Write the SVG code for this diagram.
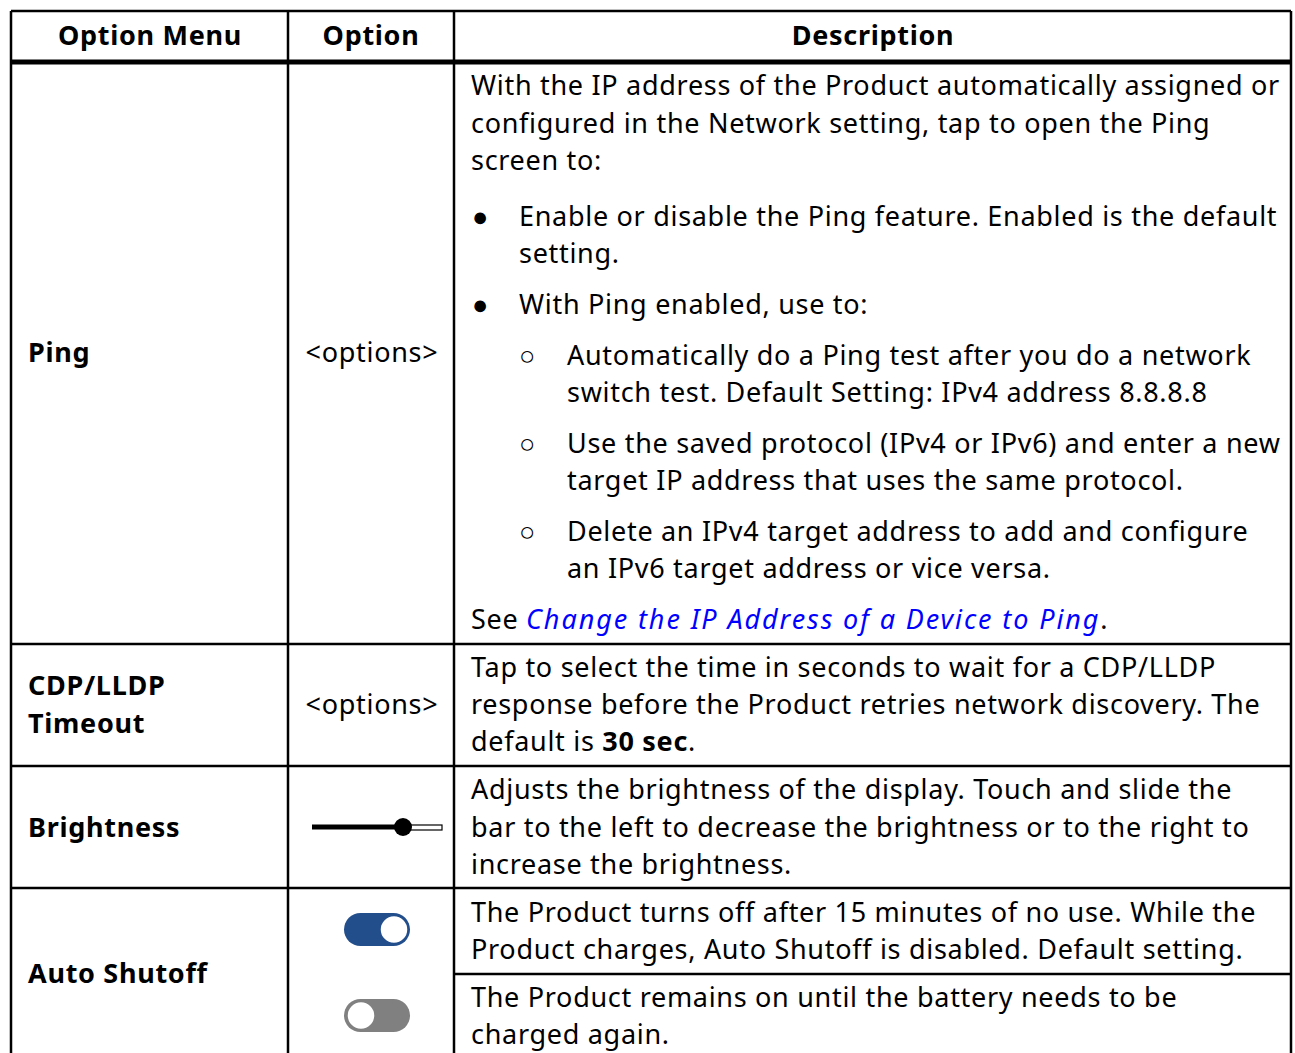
<svg xmlns="http://www.w3.org/2000/svg" width="1295" height="1053" viewBox="0 0 1295 1053">
<style>
.t{font-family:"Noto Sans","Liberation Sans",Arial,sans-serif;font-size:27px;fill:#000;letter-spacing:0.7px}
.b{font-weight:bold}
.c{text-anchor:middle}
.ln{stroke:#000;stroke-width:2.5;fill:none}
.link{fill:#0000ff;font-style:italic;letter-spacing:1.9px}
</style>
<rect width="1295" height="1053" fill="#fff"/>
<g id="grid">
<line class="ln" x1="11" y1="11" x2="1291" y2="11"/>
<line class="ln" x1="11" y1="11" x2="11" y2="1053"/>
<line class="ln" x1="1291" y1="11" x2="1291" y2="1053"/>
<line class="ln" x1="288" y1="11" x2="288" y2="1053"/>
<line class="ln" x1="454" y1="11" x2="454" y2="1053"/>
<line x1="11" y1="62" x2="1291" y2="62" stroke="#000" stroke-width="5"/>
<line class="ln" x1="11" y1="644" x2="1291" y2="644"/>
<line class="ln" x1="11" y1="766" x2="1291" y2="766"/>
<line class="ln" x1="11" y1="888" x2="1291" y2="888"/>
<line class="ln" x1="454" y1="974" x2="1291" y2="974"/>
</g>
<g id="header">
<text class="t b c" x="150" y="45">Option Menu</text>
<text class="t b c" x="371" y="45">Option</text>
<text class="t b c" x="873" y="45">Description</text>
</g>
<g id="row-ping">
<text class="t b" x="28" y="362">Ping</text>
<text class="t c" x="372" y="362">&lt;options&gt;</text>
<text class="t" x="471" y="95">With the IP address of the Product automatically assigned or</text>
<text class="t" x="471" y="133">configured in the Network setting, tap to open the Ping</text>
<text class="t" x="471" y="170">screen to:</text>
<text class="t" x="472" y="226">●</text>
<text class="t" x="519" y="226">Enable or disable the Ping feature. Enabled is the default</text>
<text class="t" x="519" y="263">setting.</text>
<text class="t" x="472" y="314">●</text>
<text class="t" x="519" y="314">With Ping enabled, use to:</text>
<text class="t" x="519" y="365">○</text>
<text class="t" x="567" y="365">Automatically do a Ping test after you do a network</text>
<text class="t" x="567" y="402">switch test. Default Setting: IPv4 address 8.8.8.8</text>
<text class="t" x="519" y="453">○</text>
<text class="t" x="567" y="453">Use the saved protocol (IPv4 or IPv6) and enter a new</text>
<text class="t" x="567" y="490">target IP address that uses the same protocol.</text>
<text class="t" x="519" y="541">○</text>
<text class="t" x="567" y="541">Delete an IPv4 target address to add and configure</text>
<text class="t" x="567" y="578">an IPv6 target address or vice versa.</text>
<text class="t" x="471" y="629">See <tspan class="link">Change the IP Address of a Device to Ping</tspan>.</text>
</g>
<g id="row-cdp">
<text class="t b" x="28" y="695">CDP/LLDP</text>
<text class="t b" x="28" y="733">Timeout</text>
<text class="t c" x="372" y="714">&lt;options&gt;</text>
<text class="t" x="471" y="677">Tap to select the time in seconds to wait for a CDP/LLDP</text>
<text class="t" x="471" y="714">response before the Product retries network discovery. The</text>
<text class="t" x="471" y="751">default is <tspan class="b">30 sec</tspan>.</text>
</g>
<g id="row-brightness">
<text class="t b" x="28" y="837">Brightness</text>
<line x1="312" y1="827" x2="403" y2="827" stroke="#000" stroke-width="5"/>
<rect x="403" y="825" width="39" height="5" fill="#fff" stroke="#000" stroke-width="1.2"/>
<circle cx="403" cy="827" r="9" fill="#000"/>
<text class="t" x="471" y="799">Adjusts the brightness of the display. Touch and slide the</text>
<text class="t" x="471" y="837">bar to the left to decrease the brightness or to the right to</text>
<text class="t" x="471" y="874">increase the brightness.</text>
</g>
<g id="row-autoshutoff">
<text class="t b" x="28" y="983">Auto Shutoff</text>
<rect x="344" y="913" width="66" height="33" rx="16.5" fill="#234e8c"/>
<circle cx="394" cy="929.5" r="14" fill="#fff" stroke="#234e8c" stroke-width="1.5"/>
<rect x="344" y="999" width="66" height="33" rx="16.5" fill="#808080"/>
<circle cx="361" cy="1015.5" r="14" fill="#fff" stroke="#808080" stroke-width="1.5"/>
<text class="t" x="471" y="922">The Product turns off after 15 minutes of no use. While the</text>
<text class="t" x="471" y="959">Product charges, Auto Shutoff is disabled. Default setting.</text>
<text class="t" x="471" y="1007">The Product remains on until the battery needs to be</text>
<text class="t" x="471" y="1044">charged again.</text>
</g>
</svg>
